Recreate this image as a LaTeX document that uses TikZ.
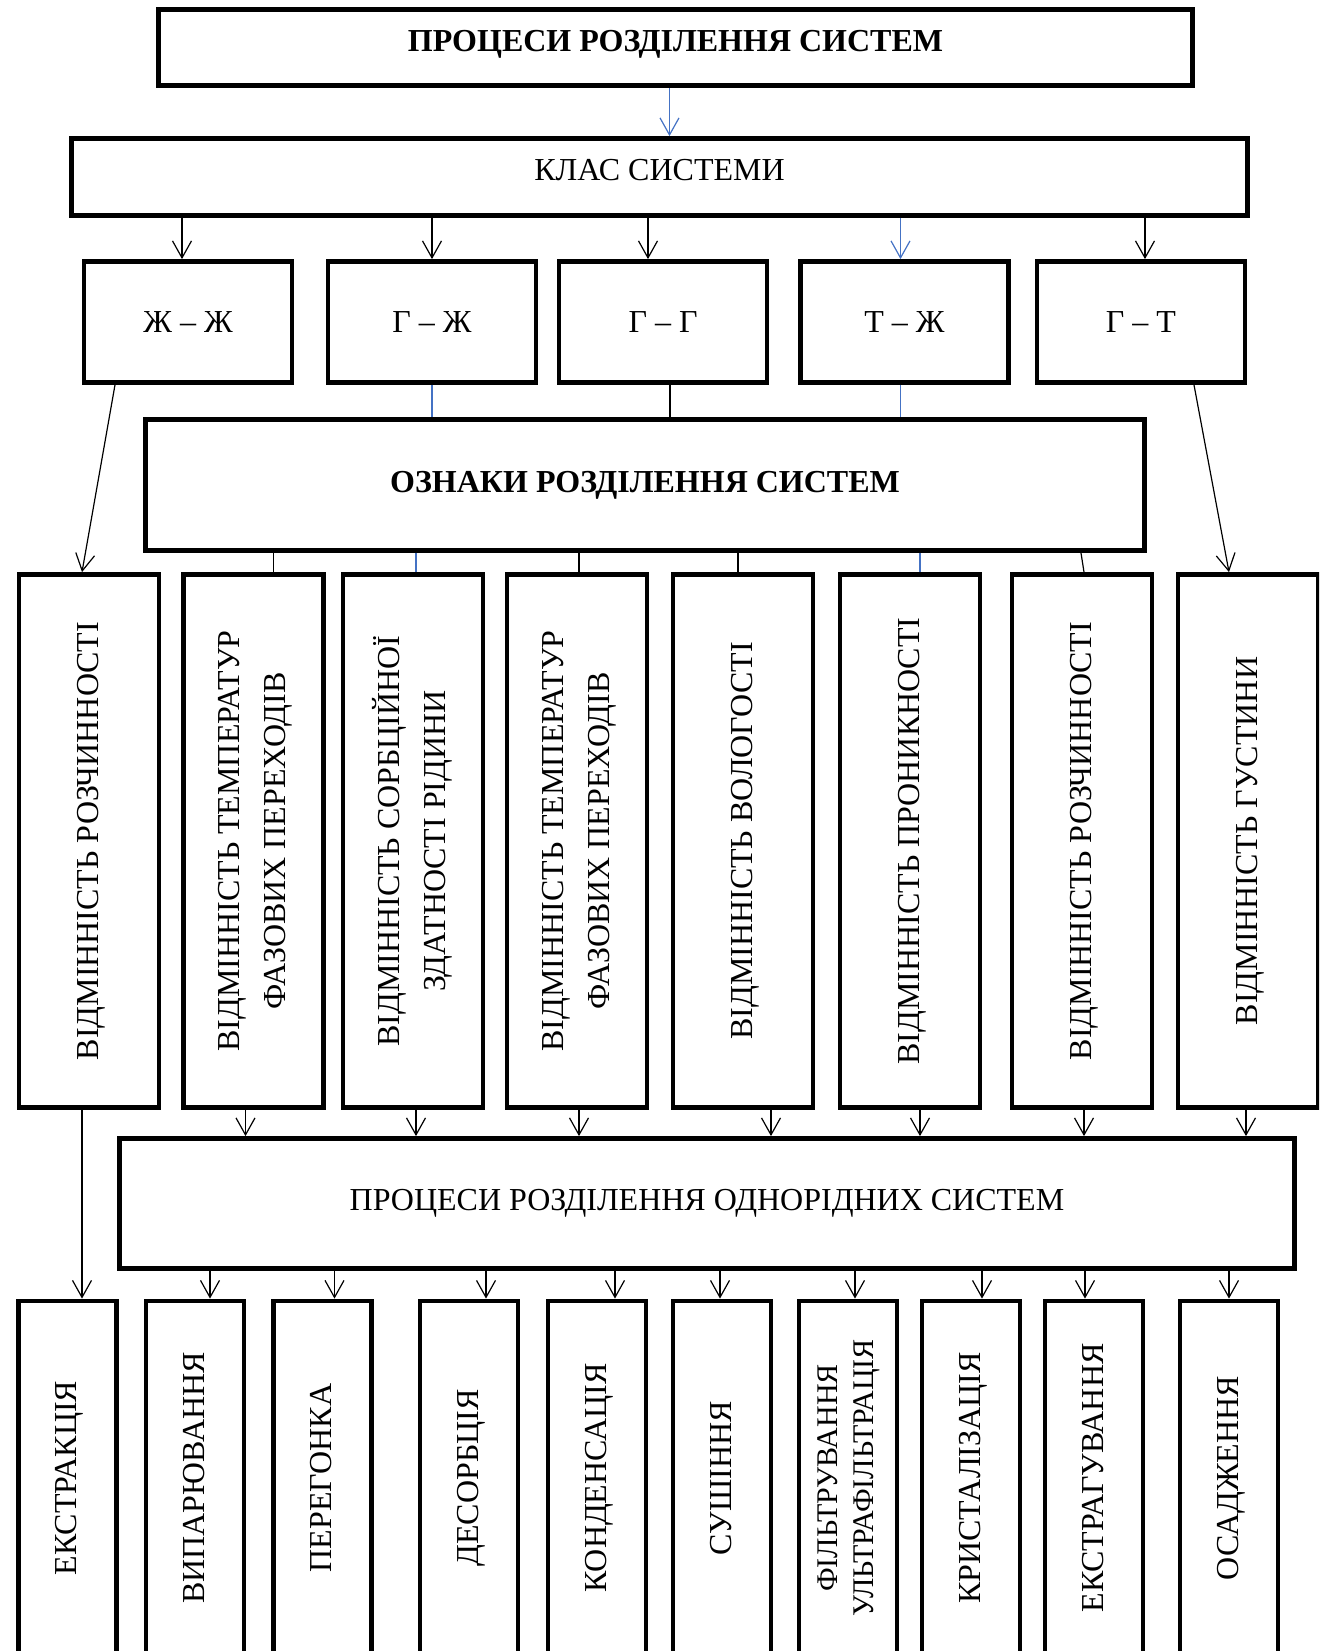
\documentclass[tikz,border=0pt]{standalone}
\usepackage{fontspec}
\setmainfont{Liberation Serif}
\usepackage{graphicx,xcolor}
\usetikzlibrary{calc,positioning,arrows.meta}
\definecolor{linkblue}{RGB}{68,114,196}
\tikzset{
  line/.style  = {-{Straight Barb[length=8.5pt,width=9.5pt]}, line width=0.6pt},
  bline/.style = {line, draw=linkblue},
  link/.style  = {line width=0.6pt},
  blink/.style = {link, draw=linkblue},
  box/.style   = {draw, line width=2.4pt, align=center, inner sep=0pt, font=\fontsize{16}{23}\selectfont},
  headbox/.style  = {box, font=\fontsize{16}{19}\selectfont\bfseries},
  pairbox/.style  = {box, minimum width=104pt, minimum height=60.5pt},
  signbox/.style  = {box, minimum width=70pt, minimum height=266.5pt},
  procbox/.style  = {box, minimum width=49pt, minimum height=177pt},
}
\newcommand{\up}[1]{\rotatebox{90}{\begin{tabular}{@{}c@{}}#1\end{tabular}}}

\begin{document}
\begin{tikzpicture}[x=0.5pt, y=-0.5pt]
  \useasboundingbox (0,0) rectangle (1319,1651);
  \clip (0,0) rectangle (1319,1651);
  % top levels
  \node[headbox, minimum width=517pt, minimum height=38pt, text height=10.6pt, text depth=6.6pt] (title) at (675.5,47.5) {ПРОЦЕСИ РОЗДІЛЕННЯ СИСТЕМ};
  \node[box, minimum width=588pt, minimum height=38.5pt, text height=10.6pt, text depth=7.4pt] (klas) at (659.5,177) {КЛАС СИСТЕМИ};
  \node[pairbox] (zhzh) at (188,322) {Ж – Ж};
  \node[pairbox] (gzh)  at (432,322) {Г – Ж};
  \node[pairbox] (gg)   at (663,322) {Г – Г};
  \node[pairbox] (tzh)  at (904.5,322) {Т – Ж};
  \node[pairbox] (gt)   at (1141,322) {Г – Т};
  \node[headbox, minimum width=499.5pt, minimum height=65.5pt] (signs) at (645,485) {ОЗНАКИ РОЗДІЛЕННЯ СИСТЕМ};
  % features
  \node[signbox] (t1) at (89,841)   {\up{ВІДМІННІСТЬ РОЗЧИННОСТІ}};
  \node[signbox] (t2) at (253.5,841) {\up{ВІДМІННІСТЬ ТЕМПЕРАТУР\\ФАЗОВИХ ПЕРЕХОДІВ}};
  \node[signbox] (t3) at (413,841)  {\up{ВІДМІННІСТЬ СОРБЦІЙНОЇ\\ЗДАТНОСТІ РІДИНИ}};
  \node[signbox] (t4) at (577,841)  {\up{ВІДМІННІСТЬ ТЕМПЕРАТУР\\ФАЗОВИХ ПЕРЕХОДІВ}};
  \node[signbox] (t5) at (743,841)  {\up{ВІДМІННІСТЬ ВОЛОГОСТІ}};
  \node[signbox] (t6) at (910,841)  {\up{ВІДМІННІСТЬ ПРОНИКНОСТІ}};
  \node[signbox] (t7) at (1082,841) {\up{ВІДМІННІСТЬ РОЗЧИННОСТІ}};
  \node[signbox] (t8) at (1248,841) {\up{ВІДМІННІСТЬ ГУСТИНИ}};
  \node[box, minimum width=587.5pt, minimum height=65pt] (homog) at (707,1203.5) {ПРОЦЕСИ РОЗДІЛЕННЯ ОДНОРІДНИХ СИСТЕМ};
  % processes
  \node[procbox] (e1)  at (67.4,1478) {\up{ЕКСТРАКЦІЯ}};
  \node[procbox] (e2)  at (195,1478)  {\up{ВИПАРЮВАННЯ}};
  \node[procbox] (e3)  at (322.5,1478) {\up{ПЕРЕГОНКА}};
  \node[procbox] (e4)  at (469,1478)  {\up{ДЕСОРБЦІЯ}};
  \node[procbox] (e5)  at (597,1478)  {\up{КОНДЕНСАЦІЯ}};
  \node[procbox] (e6)  at (722,1478)  {\up{СУШІННЯ}};
  \node[procbox, font=\fontsize{15}{18}\selectfont] (e7) at (848,1478) {\up{ФІЛЬТРУВАННЯ\\УЛЬТРАФІЛЬТРАЦІЯ}};
  \node[procbox] (e8)  at (971,1478)  {\up{КРИСТАЛІЗАЦІЯ}};
  \node[procbox] (e9)  at (1094,1478) {\up{ЕКСТРАГУВАННЯ}};
  \node[procbox] (e10) at (1229,1478) {\up{ОСАДЖЕННЯ}};
  % connectors
  \draw[bline] ([xshift=-3pt]title.south) -- ([xshift=-3pt]title.south |- klas.north);
  \draw[line]  ([xshift=-3pt]zhzh.north |- klas.south) -- ([xshift=-3pt]zhzh.north);
  \draw[line]  (gzh.north |- klas.south) -- (gzh.north);
  \draw[line]  ([xshift=-7.5pt]gg.north |- klas.south) -- ([xshift=-7.5pt]gg.north);
  \draw[bline] ([xshift=-2pt]tzh.north |- klas.south) -- ([xshift=-2pt]tzh.north);
  \draw[line]  ([xshift=2pt]gt.north |- klas.south) -- ([xshift=2pt]gt.north);
  \draw[blink] (gzh.south) -- (gzh.south |- signs.north);
  \draw[link]  ([xshift=3.5pt]gg.south) -- ([xshift=3.5pt]gg.south |- signs.north);
  \draw[blink] ([xshift=-2pt]tzh.south) -- ([xshift=-2pt]tzh.south |- signs.north);
  \draw[line]  ([xshift=-36.5pt]zhzh.south) -- ([xshift=-3.5pt]t1.north);
  \draw[line]  ([xshift=26.5pt]gt.south) -- ([xshift=-9.5pt]t8.north);
  \draw[link]  ([xshift=10pt]t2.north |- signs.south) -- ([xshift=10pt]t2.north);
  \draw[blink] ([xshift=1.5pt]t3.north |- signs.south) -- ([xshift=1.5pt]t3.north);
  \draw[link]  ([xshift=1pt]t4.north |- signs.south) -- ([xshift=1pt]t4.north);
  \draw[link]  ([xshift=-2.5pt]t5.north |- signs.south) -- ([xshift=-2.5pt]t5.north);
  \draw[blink] ([xshift=5pt]t6.north |- signs.south) -- ([xshift=5pt]t6.north);
  \draw[link]  ([xshift=-0.5pt]t7.north |- signs.south) -- ([xshift=1pt]t7.north);
  \draw[line]  ([xshift=-3.5pt]t1.south) -- ([xshift=-3.5pt]t1.south |- e1.north);
  \draw[line]  ([xshift=-4pt]t2.south) -- ([xshift=-4pt]t2.south |- homog.north);
  \draw[line]  ([xshift=1.5pt]t3.south) -- ([xshift=1.5pt]t3.south |- homog.north);
  \draw[line]  ([xshift=1pt]t4.south) -- ([xshift=1pt]t4.south |- homog.north);
  \draw[line]  ([xshift=14pt]t5.south) -- ([xshift=14pt]t5.south |- homog.north);
  \draw[line]  ([xshift=5pt]t6.south) -- ([xshift=5pt]t6.south |- homog.north);
  \draw[line]  ([xshift=1pt]t7.south) -- ([xshift=1pt]t7.south |- homog.north);
  \draw[line]  ([xshift=-1pt]t8.south) -- ([xshift=-1pt]t8.south |- homog.north);
  \draw[line]  ([xshift=7.5pt]e2.north |- homog.south) -- ([xshift=7.5pt]e2.north);
  \draw[line]  ([xshift=6pt]e3.north |- homog.south) -- ([xshift=6pt]e3.north);
  \draw[line]  ([xshift=8.5pt]e4.north |- homog.south) -- ([xshift=8.5pt]e4.north);
  \draw[line]  ([xshift=9pt]e5.north |- homog.south) -- ([xshift=9pt]e5.north);
  \draw[line]  ([xshift=-1pt]e6.north |- homog.south) -- ([xshift=-1pt]e6.north);
  \draw[line]  ([xshift=3.5pt]e7.north |- homog.south) -- ([xshift=3.5pt]e7.north);
  \draw[line]  ([xshift=5.5pt]e8.north |- homog.south) -- ([xshift=5.5pt]e8.north);
  \draw[line]  ([xshift=-4.5pt]e9.north |- homog.south) -- ([xshift=-4.5pt]e9.north);
  \draw[line]  (e10.north |- homog.south) -- (e10.north);
\end{tikzpicture}
\end{document}
